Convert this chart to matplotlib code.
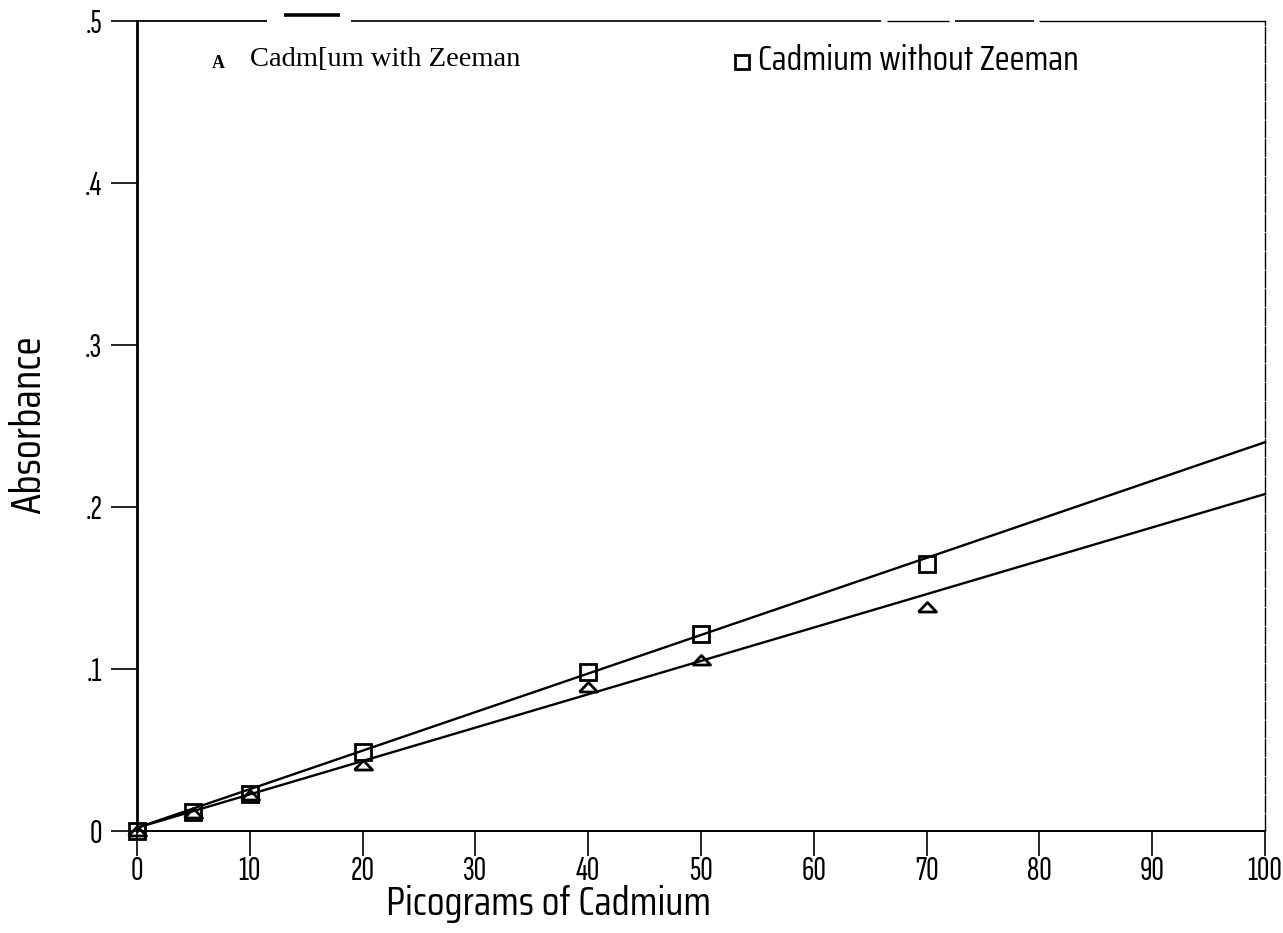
import matplotlib
matplotlib.use("Agg")
import matplotlib.pyplot as plt
from matplotlib import font_manager
import numpy as np

# Calibration data: absorbance versus mass of cadmium
picograms = [0, 5, 10, 20, 40, 50, 70]
abs_with_zeeman = [0.0, 0.011, 0.022, 0.041, 0.089, 0.1055, 0.138]
abs_without_zeeman = [0.0, 0.0115, 0.023, 0.049, 0.098, 0.1215, 0.165]

# Fitted calibration lines (slope, intercept)
fit_with_zeeman = (0.00206, 0.002)
fit_without_zeeman = (0.00238, 0.002)

x_ticks = [0, 10, 20, 30, 40, 50, 60, 70, 80, 90, 100]
y_ticks = [0.0, 0.1, 0.2, 0.3, 0.4, 0.5]
y_tick_labels = ["0", ".1", ".2", ".3", ".4", ".5"]

label_with = "Cadm[um with Zeeman"
label_without = "Cadmium without Zeeman"
x_label = "Picograms of Cadmium"
y_label = "Absorbance"

installed = {f.name for f in font_manager.fontManager.ttflist}


def first_font(*names):
    for n in names:
        if n in installed:
            return n
    return "DejaVu Sans"


tick_family = [first_font("Saira Extra Condensed", "Sofia Sans Extra Condensed",
                          "Barlow Condensed", "Archivo Narrow"), "DejaVu Sans"]
label_family = [first_font("Saira Semi Condensed", "Saira Condensed",
                           "Barlow Semi Condensed", "Barlow Condensed",
                           "Archivo Narrow"), "DejaVu Sans"]
serif_family = ["Liberation Serif", "DejaVu Serif"]

fig = plt.figure(figsize=(12.83, 9.33), dpi=100)
fig.patch.set_facecolor("white")
ax = fig.add_axes([137 / 1283, 1 - 831 / 933, (1265 - 137) / 1283, (831 - 21) / 933])
ax.set_xlim(0, 100)
ax.set_ylim(0, 0.5)

# Flattened triangle marker
tri = [(-1.0, -0.5), (1.0, -0.5), (0.0, 0.55), (-1.0, -0.5)]

xs = np.array([0, 100])
for (m, b) in (fit_with_zeeman, fit_without_zeeman):
    ax.plot(xs, m * xs + b, color="black", lw=1.7, clip_on=False, zorder=2)

ax.plot(picograms, abs_with_zeeman, linestyle="none", marker=tri, ms=13,
        mfc="none", mec="black", mew=2.0, clip_on=False, zorder=3)
ax.plot(picograms, abs_without_zeeman, linestyle="none", marker="s", ms=12,
        mfc="none", mec="black", mew=2.0, clip_on=False, zorder=3)

# Spines
ax.spines["left"].set_linewidth(2.0)
ax.spines["bottom"].set_linewidth(1.4)
ax.spines["right"].set_linewidth(1.0)
ax.spines["right"].set_linestyle((0, (12, 1.5)))
ax.spines["top"].set_visible(False)

# Top border drawn in pieces
top_segments = [(0.0, 0.115, 1.3), (0.13, 0.18, 2.6), (0.19, 0.66, 1.2),
                (0.665, 0.72, 1.0), (0.725, 0.795, 1.2), (0.80, 1.0, 1.0)]
for x0, x1, lw in top_segments:
    yy = 1.0 if lw < 2 else 1.007
    ax.plot([x0, x1], [yy, yy], transform=ax.transAxes, color="black",
            lw=lw, clip_on=False, solid_capstyle="butt")

ax.set_xticks(x_ticks)
ax.set_xticklabels([str(v) for v in x_ticks])
ax.set_yticks(y_ticks)
ax.set_yticklabels(y_tick_labels)
ax.tick_params(axis="x", direction="out", length=18, width=1.2, pad=0,
               labelsize=25)
ax.tick_params(axis="y", direction="out", length=19, width=1.2, pad=6,
               labelsize=25)
for lab in ax.get_xticklabels() + ax.get_yticklabels():
    lab.set_family(tick_family)
    lab.set_fontweight("light")

ax.set_xlabel(x_label, family=label_family, fontsize=29)
ax.xaxis.label.set_va("center")
ax.xaxis.set_label_coords((548 - 137) / 1128, (831 - 904) / 810)
ax.set_ylabel(y_label, family=label_family, fontsize=31)
ax.yaxis.label.set_va("center")
ax.yaxis.set_label_coords((28 - 137) / 1128, (831 - 425) / 810)

# Legend entries
fig.text(218 / 1283, 1 - 64 / 933, "A", family=serif_family, fontweight="bold",
         fontsize=13, ha="center", va="center")
fig.text(250 / 1283, 1 - 60 / 933, label_with, family=serif_family, fontsize=20.5,
         ha="left", va="center")
ax.plot([742 / 1283], [1 - 62 / 933], transform=fig.transFigure, marker="s",
        ms=10, mfc="none", mec="black", mew=2.0, clip_on=False)
fig.text(758 / 1283, 1 - 60 / 933, label_without, family=label_family,
         fontsize=25, ha="left", va="center")

fig.savefig("out.png", dpi=100)
